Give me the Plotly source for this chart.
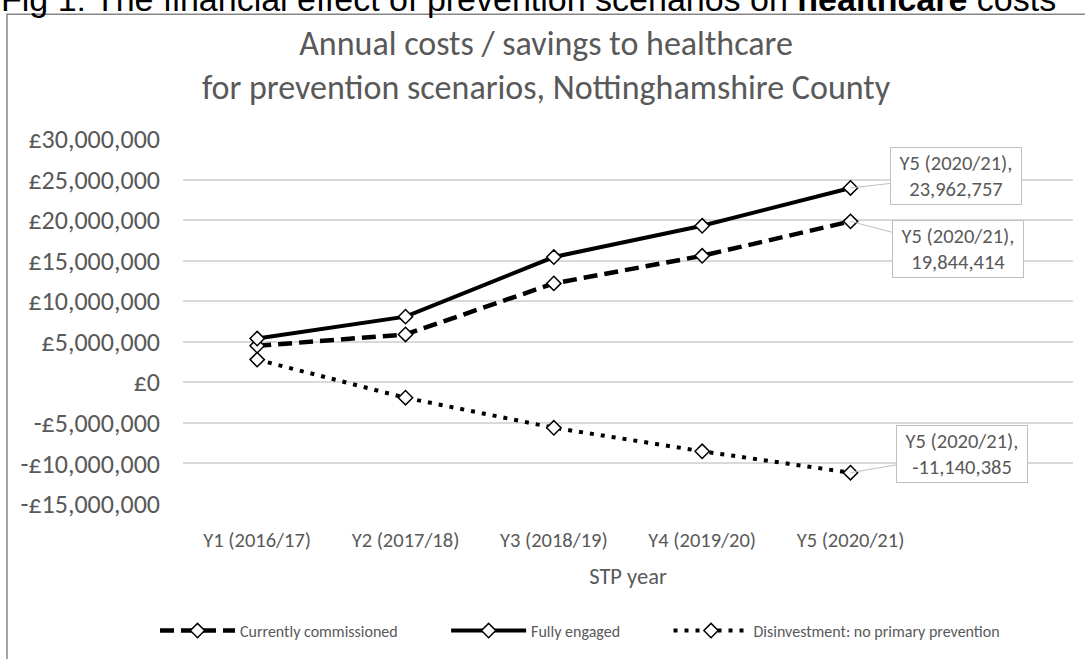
import plotly.graph_objects as go

years = ["Y1 (2016/17)", "Y2 (2017/18)", "Y3 (2018/19)", "Y4 (2019/20)", "Y5 (2020/21)"]
currently_commissioned = [4500000, 5900000, 12200000, 15600000, 19844414]
fully_engaged = [5400000, 8100000, 15450000, 19300000, 23962757]
disinvestment = [2800000, -1900000, -5600000, -8500000, -11140385]

tick_vals = [30e6, 25e6, 20e6, 15e6, 10e6, 5e6, 0, -5e6, -10e6, -15e6]
tick_text = ["£30,000,000", "£25,000,000", "£20,000,000", "£15,000,000", "£10,000,000",
             "£5,000,000", "£0", "-£5,000,000", "-£10,000,000", "-£15,000,000"]

FONT = "Carlito, 'Open Sans', sans-serif"
TXT = "#595959"

# plot area in pixels
L, R, T, B = 183, 1073, 139, 508
W, H = 1085, 659
def px(x):
    return (x - L) / (R - L)
def py(y):
    return (B - y) / (B - T)

PAD = "\u00a0" * 12

fig = go.Figure()
marker = dict(symbol="diamond", size=11, color="white", line=dict(color="black", width=1.5))
fig.add_trace(go.Scatter(x=years, y=currently_commissioned, name="Currently commissioned" + PAD,
                         mode="lines+markers", line=dict(color="black", width=4.5, dash="14px,7px"),
                         marker=marker))
fig.add_trace(go.Scatter(x=years, y=fully_engaged, name="Fully engaged" + PAD,
                         mode="lines+markers", line=dict(color="black", width=4),
                         marker=marker))
fig.add_trace(go.Scatter(x=years, y=disinvestment, name="Disinvestment: no primary prevention",
                         mode="lines+markers", line=dict(color="black", width=4, dash="4px,7px"),
                         marker=marker))

def fmt(v):
    return ("-" if v < 0 else "") + f"{abs(v):,}"

callouts = [
    (fully_engaged[-1], 105, -12),
    (currently_commissioned[-1], 107, 28),
    (disinvestment[-1], 111, -19),
]
for val, ax, ay in callouts:
    fig.add_annotation(x=years[-1], y=val, text=f"{years[-1]},<br>{fmt(val)}",
                       showarrow=True, arrowhead=0, arrowwidth=1, arrowcolor="#bfbfbf",
                       ax=ax, ay=ay, bgcolor="white", bordercolor="#bfbfbf", borderwidth=1,
                       borderpad=5, width=120, height=46,
                       font=dict(family=FONT, size=20.5, color=TXT))

# header text above chart (partly cut off at the top, as in the source)
fig.add_annotation(xref="paper", yref="paper", x=px(-1), y=py(19), xanchor="left", yanchor="bottom",
                   text="Fig 1: The financial effect of prevention scenarios on <b>healthcare</b> costs",
                   showarrow=False, font=dict(family="'Liberation Sans', Arial", size=34, color="black"))

# chart border
fig.add_shape(type="rect", xref="paper", yref="paper", x0=px(7), x1=px(1100), y0=py(680), y1=py(13),
              line=dict(color="#868686", width=1.5), layer="below")

fig.update_layout(
    width=W, height=H,
    margin=dict(l=L, r=W - R, t=T, b=H - B),
    paper_bgcolor="white", plot_bgcolor="white",
    font=dict(family=FONT, color=TXT),
    title=dict(text="Annual costs / savings to healthcare<br>for prevention scenarios, Nottinghamshire County",
               x=px(546), xref="paper", xanchor="center", y=1 - 55 / H, yanchor="middle",
               font=dict(family=FONT, size=34, color=TXT)),
    xaxis=dict(type="category", range=[-0.5, 5.5], showgrid=False, showline=False, ticks="",
               tickfont=dict(size=20.5, color=TXT), ticklabelstandoff=21,
               title=dict(text="STP year", font=dict(size=22.5, color=TXT), standoff=16)),
    yaxis=dict(range=[-15e6, 30e6], tickvals=tick_vals, ticktext=tick_text, showgrid=True,
               gridcolor="#d9d9d9", gridwidth=1.5, zeroline=False, showline=False, ticks="",
               tickfont=dict(size=26, color=TXT), ticklabelstandoff=22),
    legend=dict(orientation="h", x=px(580), xanchor="center", y=py(636), yanchor="middle",
                font=dict(size=16, color=TXT), bgcolor="rgba(0,0,0,0)", itemwidth=75),
    showlegend=True,
)

fig.write_html("out.html")
